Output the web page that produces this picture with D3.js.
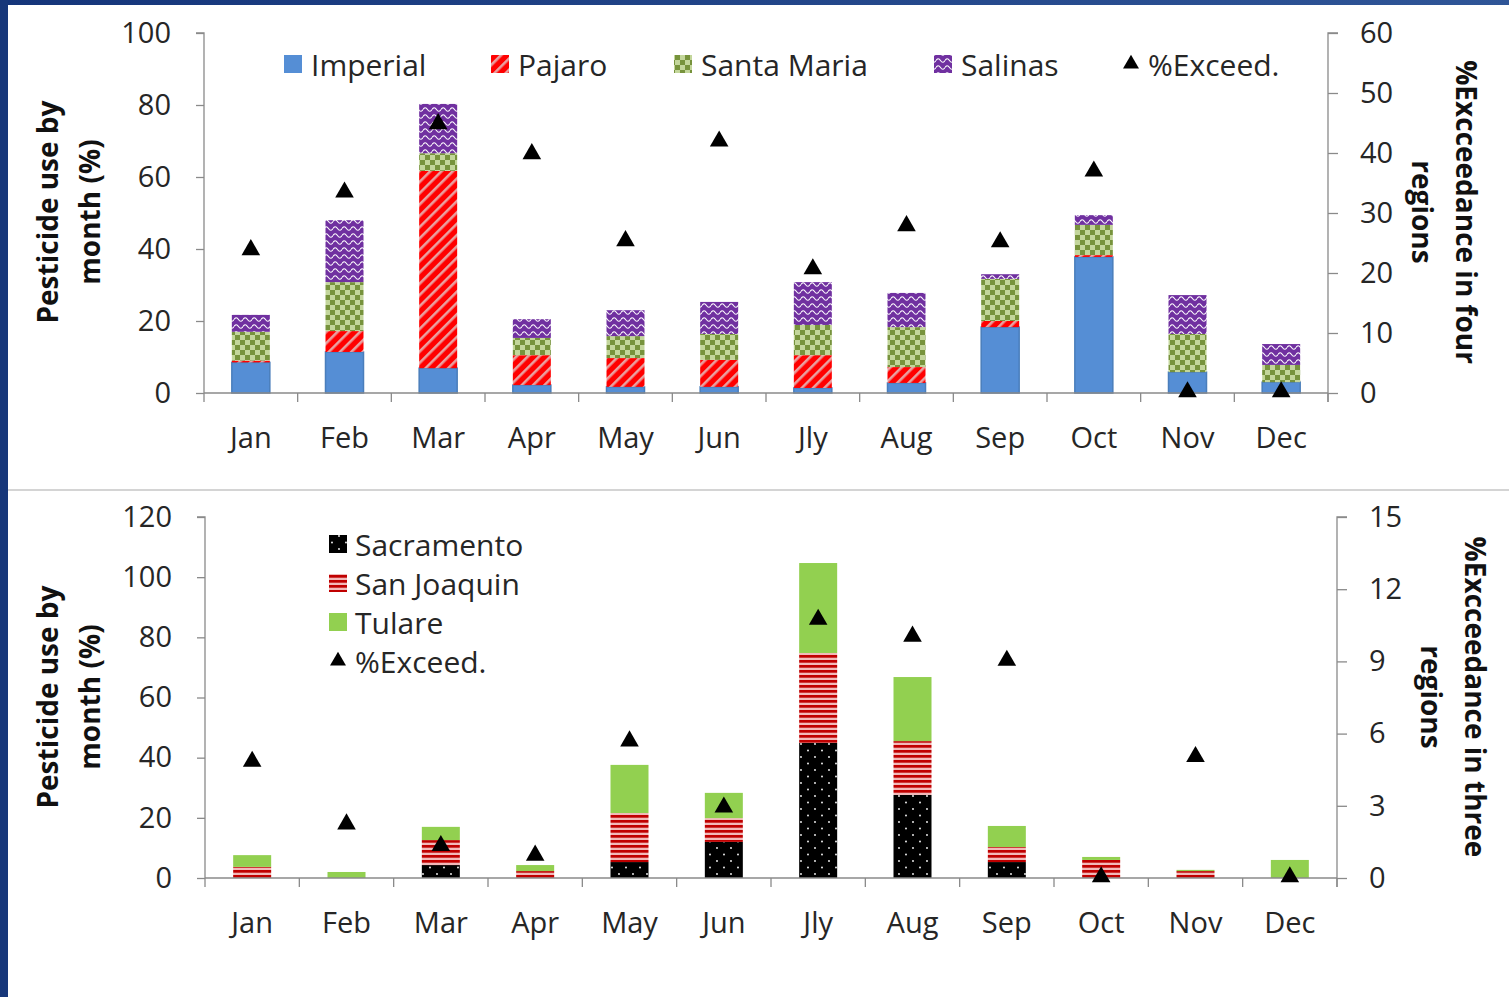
<!DOCTYPE html>
<html><head><meta charset="utf-8">
<script src="https://cdn.jsdelivr.net/npm/d3@7"></script>
<style>html,body{margin:0;padding:0;background:#fff;} svg{display:block;}</style>
</head><body>
<svg id="c" width="1509" height="997"></svg>
<script>
const months = ["Jan","Feb","Mar","Apr","May","Jun","Jly","Aug","Sep","Oct","Nov","Dec"];
// Top chart (four regions)
const imperial   = [8.5, 11.4, 6.9, 2.2, 1.7, 1.7, 1.4, 2.8, 18.3, 37.8, 5.8, 3.0];
const pajaro     = [0.5, 5.8, 54.8, 8.3, 8.0, 7.5, 9.1, 4.4, 1.7, 0.5, 0, 0];
const santaMaria = [8.0, 13.6, 4.9, 4.8, 6.1, 7.2, 8.4, 11.1, 11.7, 8.4, 10.6, 4.8];
const salinas    = [4.7, 17.2, 13.7, 5.2, 7.2, 8.9, 11.9, 9.5, 1.3, 2.7, 10.8, 5.8];
const exceedTop  = [23.7, 33.3, 44.7, 39.7, 25.2, 41.8, 20.5, 27.7, 25.0, 36.8, 0, 0];
const topLeftTicks = [0, 20, 40, 60, 80, 100];
const topRightTicks = [0, 10, 20, 30, 40, 50, 60];
// Bottom chart (three regions)
const sacramento = [0, 0, 4.3, 0, 5.3, 12.0, 44.9, 27.6, 5.3, 0, 0, 0];
const sanJoaquin = [3.7, 0, 8.3, 2.3, 16.3, 7.9, 29.9, 17.9, 5.0, 6.0, 2.3, 0];
const tulare     = [3.9, 2.0, 4.4, 2.0, 16.0, 8.4, 29.9, 21.3, 7.0, 1.0, 0.4, 6.0];
const exceedBot  = [4.8, 2.2, 1.3, 0.9, 5.65, 2.9, 10.7, 10.0, 9.0, 0, 5.0, 0];
const botLeftTicks = [0, 20, 40, 60, 80, 100, 120];
const botRightTicks = [0, 3, 6, 9, 12, 15];

const svg = d3.select("#c");
const FONT = "'Open Sans', 'Noto Sans', sans-serif";
const TXT = "#262626";
const AX = "#8a8a8a";

// ---------- defs / patterns ----------
const defs = svg.append("defs");
const grad = defs.append("linearGradient").attr("id","navy").attr("x1","0").attr("x2","1").attr("y1","0").attr("y2","0");
grad.append("stop").attr("offset","0").attr("stop-color","#15357a");
grad.append("stop").attr("offset","1").attr("stop-color","#2f5597");

let p = defs.append("pattern").attr("id","pPajaro").attr("patternUnits","userSpaceOnUse")
  .attr("width",8).attr("height",8).attr("patternTransform","rotate(45)");
p.append("rect").attr("width",8).attr("height",8).attr("fill","#ff0000");
p.append("rect").attr("width",2.6).attr("height",8).attr("fill","#e9a1a1");

p = defs.append("pattern").attr("id","pSM").attr("patternUnits","userSpaceOnUse").attr("width",10).attr("height",10);
p.append("rect").attr("width",10).attr("height",10).attr("fill","#c3d69b");
p.append("rect").attr("width",5).attr("height",5).attr("fill","#77933c");
p.append("rect").attr("x",5).attr("y",5).attr("width",5).attr("height",5).attr("fill","#77933c");

p = defs.append("pattern").attr("id","pSal").attr("patternUnits","userSpaceOnUse").attr("width",9).attr("height",7);
p.append("rect").attr("width",9).attr("height",7).attr("fill","#7030a0");
p.append("path").attr("d","M0,4.5 Q2.25,1 4.5,4.5 T9,4.5").attr("fill","none").attr("stroke","#ffffff").attr("stroke-width",1.1);

p = defs.append("pattern").attr("id","pSac").attr("patternUnits","userSpaceOnUse").attr("width",14).attr("height",13);
p.append("rect").attr("width",14).attr("height",13).attr("fill","#000");
p.append("circle").attr("cx",3).attr("cy",3).attr("r",0.9).attr("fill","#fff");
p.append("circle").attr("cx",10).attr("cy",9.5).attr("r",0.9).attr("fill","#fff");

p = defs.append("pattern").attr("id","pSJ").attr("patternUnits","userSpaceOnUse").attr("width",10).attr("height",5);
p.append("rect").attr("width",10).attr("height",5).attr("fill","#f2b9b9");
p.append("rect").attr("width",10).attr("height",2.7).attr("fill","#c00000");

// ---------- frame ----------
svg.append("rect").attr("x",0).attr("y",0).attr("width",1509).attr("height",997).attr("fill","#fff");
svg.append("rect").attr("x",0).attr("y",0).attr("width",1509).attr("height",5).attr("fill","url(#navy)");
svg.append("rect").attr("x",0).attr("y",0).attr("width",8).attr("height",997).attr("fill","#17377a");
svg.append("line").attr("x1",8).attr("x2",1509).attr("y1",490).attr("y2",490).attr("stroke","#c6c6c6").attr("stroke-width",1.5);

function drawChart(cfg) {
  const g = svg.append("g");
  const x = d3.scaleBand().domain(months).range([cfg.x0, cfg.x1]).paddingInner(0).paddingOuter(0);
  const yL = d3.scaleLinear().domain([0, cfg.leftMax]).range([cfg.yB, cfg.yT]);
  const yR = d3.scaleLinear().domain([0, cfg.rightMax]).range([cfg.yB, cfg.yT]);
  const bw = 38;

  // stacked bars
  const rows = months.map((m,i) => { const r = {month:m}; cfg.series.forEach(s => r[s.key] = s.values[i]); return r; });
  const stack = d3.stack().keys(cfg.series.map(s => s.key))(rows);
  stack.forEach((layer, li) => {
    const s = cfg.series[li];
    g.append("g").selectAll("rect").data(layer).join("rect")
      .attr("x", d => x(d.data.month) + x.bandwidth()/2 - bw/2)
      .attr("width", bw)
      .attr("y", d => yL(d[1]))
      .attr("height", d => Math.max(0, yL(d[0]) - yL(d[1])))
      .attr("fill", s.fill)
      .attr("stroke", s.stroke || "none")
      .attr("stroke-width", s.stroke ? 1.5 : 0);
  });

  // axes
  const axL = d3.axisLeft(yL).tickValues(cfg.leftTicks).tickSize(8).tickPadding(25);
  const gl = g.append("g").attr("transform",`translate(${cfg.x0},0)`).call(axL);
  const axR = d3.axisRight(yR).tickValues(cfg.rightTicks).tickSize(10).tickPadding(cfg.rPad);
  const gr = g.append("g").attr("transform",`translate(${cfg.x1},0)`).call(axR);
  const axB = d3.axisBottom(x).tickSize(0).tickPadding(cfg.xPad);
  const gb = g.append("g").attr("transform",`translate(0,${cfg.yB})`).call(axB);
  // category boundary ticks
  const bounds = months.map(m => x(m)).concat([cfg.x1]);
  g.append("g").selectAll("line").data(bounds).join("line")
    .attr("x1", d => d).attr("x2", d => d).attr("y1", cfg.yB).attr("y2", cfg.yB + 9)
    .attr("stroke", AX).attr("stroke-width", 1.3);
  [gl, gr, gb].forEach(a => {
    a.select(".domain").attr("stroke", AX).attr("stroke-width", 1.3);
    a.selectAll(".tick line").attr("stroke", AX).attr("stroke-width", 1.3);
    a.selectAll("text").attr("font-family", FONT).attr("font-size", 29).attr("fill", TXT);
  });
  gl.select(".domain").attr("d", `M-8,${cfg.yT}H0V${cfg.yB}`);
  gr.select(".domain").attr("d", `M10,${cfg.yT}H0V${cfg.yB + 9}`);
  gb.select(".domain").attr("d", `M${cfg.x0},0H${cfg.x1}`);

  // exceedance markers
  g.append("g").selectAll("path").data(cfg.exceed).join("path")
    .attr("d", d3.symbol().type(d3.symbolTriangle).size(150))
    .attr("transform", (d,i) => `translate(${x(months[i]) + x.bandwidth()/2},${yR(d) - 1})`)
    .attr("fill", "#000");

  // axis titles
  const lt = g.append("text").attr("font-family", FONT).attr("font-weight", 700).attr("font-size", 28).attr("fill", "#111")
    .attr("text-anchor","middle").attr("transform", `translate(${cfg.ltX},${cfg.tY}) rotate(-90)`);
  lt.append("tspan").attr("x",0).attr("y",0).text("Pesticide use by");
  lt.append("tspan").attr("x",0).attr("y",42).text("month (%)");
  const rt = g.append("text").attr("font-family", FONT).attr("font-weight", 700).attr("font-size", 28).attr("fill", "#111")
    .attr("text-anchor","middle").attr("transform", `translate(${cfg.rtX},${cfg.tY}) rotate(90)`);
  rt.append("tspan").attr("x",0).attr("y",0).text(cfg.rightTitle);
  rt.append("tspan").attr("x",0).attr("y",44).text("regions");
  return g;
}

drawChart({
  x0: 204, x1: 1328, yT: 33, yB: 393, leftMax: 100, rightMax: 60,
  leftTicks: topLeftTicks, rightTicks: topRightTicks, rPad: 22, xPad: 34,
  series: [
    {key:"Imperial", values: imperial, fill:"#558ed5", stroke:"#4a7ebb"},
    {key:"Pajaro", values: pajaro, fill:"url(#pPajaro)"},
    {key:"Santa Maria", values: santaMaria, fill:"url(#pSM)"},
    {key:"Salinas", values: salinas, fill:"url(#pSal)"}
  ],
  exceed: exceedTop, ltX: 58, rtX: 1456, tY: 212, rightTitle: "%Excceedance in four"
});

drawChart({
  x0: 205, x1: 1337, yT: 517, yB: 878, leftMax: 120, rightMax: 15,
  leftTicks: botLeftTicks, rightTicks: botRightTicks, rPad: 22, xPad: 34,
  series: [
    {key:"Sacramento", values: sacramento, fill:"url(#pSac)"},
    {key:"San Joaquin", values: sanJoaquin, fill:"url(#pSJ)"},
    {key:"Tulare", values: tulare, fill:"#92d050"}
  ],
  exceed: exceedBot, ltX: 58, rtX: 1465, tY: 697, rightTitle: "%Excceedance in three"
});

// ---------- legends ----------
const topLegend = [
  {label:"Imperial", fill:"#558ed5", x:284},
  {label:"Pajaro", fill:"url(#pPajaro)", x:491},
  {label:"Santa Maria", fill:"url(#pSM)", x:674},
  {label:"Salinas", fill:"url(#pSal)", x:934},
  {label:"%Exceed.", tri:true, x:1123}
];
const lg = svg.append("g");
topLegend.forEach(d => {
  if (d.tri) {
    lg.append("path").attr("d", d3.symbol().type(d3.symbolTriangle).size(110)).attr("transform",`translate(${d.x+8},${64})`).attr("fill","#000");
  } else {
    lg.append("rect").attr("x", d.x).attr("y", 55).attr("width", 18).attr("height", 18).attr("fill", d.fill);
  }
  lg.append("text").attr("x", d.x + (d.tri ? 25 : 27)).attr("y", 64).attr("dominant-baseline","central")
    .attr("font-family", FONT).attr("font-size", 30).attr("fill", TXT).text(d.label);
});
const botLegend = [
  {label:"Sacramento", fill:"url(#pSac)"},
  {label:"San Joaquin", fill:"url(#pSJ)"},
  {label:"Tulare", fill:"#92d050"},
  {label:"%Exceed.", tri:true}
];
botLegend.forEach((d,i) => {
  const cy = 544 + i*39;
  if (d.tri) {
    lg.append("path").attr("d", d3.symbol().type(d3.symbolTriangle).size(110)).attr("transform",`translate(338,${cy})`).attr("fill","#000");
  } else {
    lg.append("rect").attr("x", 329).attr("y", cy - 9).attr("width", 18).attr("height", 18).attr("fill", d.fill);
  }
  lg.append("text").attr("x", 355).attr("y", cy).attr("dominant-baseline","central")
    .attr("font-family", FONT).attr("font-size", 30).attr("fill", TXT).text(d.label);
});
</script>
</body></html>
